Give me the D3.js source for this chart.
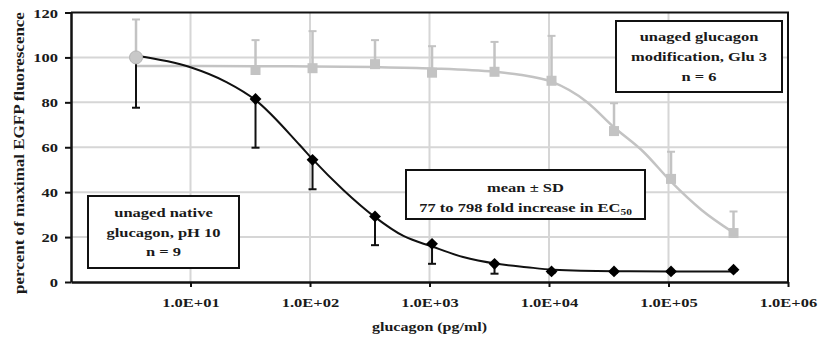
<!DOCTYPE html>
<html>
<head>
<meta charset="utf-8">
<script src="https://cdn.jsdelivr.net/npm/d3@7"></script>
<style>
  body { margin: 0; background: #fff; }
  text { font-family: "Liberation Serif", "Times New Roman", serif; font-weight: bold; fill: #1a1a1a; }
</style>
</head>
<body>
<div id="chart"></div>
<script>
// glucagon doses (pg/ml)
const doses = [3.5, 35, 105, 350, 1050, 3500, 10500, 35000, 105000, 350000];

// unaged native glucagon, pH 10 (black) - mean and SD (drawn downward)
const nativeMean = [100, 81.5, 54.4, 29.2, 17, 8.1, 4.7, 4.7, 4.7, 5.5];
const nativeSD = [22.4, 21.7, 13.1, 12.8, 8.9, 4.4, 0.6, 0.5, 0.5, 0.5];

// unaged glucagon modification, Glu 3 (grey) - mean and SD (drawn upward)
const glu3Mean = [100, 94.4, 95.2, 97, 93.2, 93.6, 89.6, 67.2, 45.9, 21.8];
const glu3SD = [16.9, 13.3, 16.5, 10.7, 11.8, 13.3, 20, 12.4, 12.1, 9.6];

// fitted curves
const nativeFitDose = [3.5, 10, 20, 35, 82, 105, 190, 350, 605, 1050, 1910, 3650, 6500, 10800, 35000, 105000, 350000];
const nativeFitValue = [100.7, 95.6, 89, 81, 61, 54.7, 41, 28.9, 20.5, 15.8, 11.1, 8.1, 6.6, 5.5, 4.8, 4.7, 4.7];
const glu3FitDose = [3.5, 35, 105, 350, 1050, 3500, 5700, 10500, 20600, 35000, 61600, 105000, 189000, 350000];
const glu3FitValue = [96.2, 96.1, 96, 95.7, 95.1, 93.6, 92.3, 89.2, 80.3, 68.9, 58, 44.7, 32.1, 22];

// axes
const yTicks = [0, 20, 40, 60, 80, 100, 120];
const xTicks = [1e1, 1e2, 1e3, 1e4, 1e5, 1e6];
const xTickLabels = ['1.0E+01', '1.0E+02', '1.0E+03', '1.0E+04', '1.0E+05', '1.0E+06'];

const W = 824, H = 341;
const SX = 1.27; // the source text is stretched sideways
const GREY = '#c3c3c3';

const svg = d3.select('#chart').append('svg')
  .attr('width', W)
  .attr('height', H);

const x = d3.scaleLog().domain([1, 1e6]).range([71, 788]);
const y = d3.scaleLinear().domain([0, 120]).range([282, 12.5]);

function label(parent, px, py, str, size, anchor) {
  return parent.append('text')
    .attr('transform', 'translate(' + px + ',' + py + ') scale(' + SX + ',1)')
    .attr('text-anchor', anchor || 'middle')
    .style('font-size', size + 'px')
    .text(str);
}

// grid
svg.append('g').selectAll('line')
  .data(yTicks.slice(1, -1))
  .enter().append('line')
  .attr('x1', x.range()[0]).attr('x2', x.range()[1])
  .attr('y1', d => y(d)).attr('y2', d => y(d))
  .attr('stroke', '#d6d6d6').attr('stroke-width', 2);

svg.append('g').selectAll('line')
  .data(xTicks.slice(0, -1))
  .enter().append('line')
  .attr('x1', d => x(d)).attr('x2', d => x(d))
  .attr('y1', y(120)).attr('y2', y(0))
  .attr('stroke', '#d6d6d6').attr('stroke-width', 2);

// top and right frame
svg.append('path')
  .attr('d', 'M' + x(1) + ',' + y(120) + 'H' + x(1e6) + 'V' + y(0))
  .attr('fill', 'none').attr('stroke', '#111').attr('stroke-width', 2);

// y axis
const yAxis = svg.append('g')
  .attr('transform', 'translate(' + x(1) + ',0)')
  .call(d3.axisLeft(y).tickValues(yTicks).tickSize(6).tickSizeOuter(0));
yAxis.select('.domain').attr('stroke', '#111').attr('stroke-width', 2.5);
yAxis.selectAll('.tick line').attr('stroke', '#111').attr('stroke-width', 2);
yAxis.selectAll('.tick text')
  .attr('x', null).attr('dy', null)
  .attr('transform', 'translate(-13,4.5) scale(' + SX + ',1)')
  .style('font-size', '13px')
  .style('font-family', null);

// x axis
const xAxis = svg.append('g')
  .attr('transform', 'translate(0,' + y(0) + ')')
  .call(d3.axisBottom(x).tickValues(xTicks).tickSize(5).tickSizeOuter(0)
    .tickFormat((d, i) => xTickLabels[i]));
xAxis.select('.domain').attr('stroke', '#111').attr('stroke-width', 2.5);
xAxis.selectAll('.tick line').attr('stroke', '#111').attr('stroke-width', 2);
xAxis.selectAll('.tick text')
  .attr('y', null).attr('dy', null)
  .attr('transform', 'translate(0,25) scale(' + SX + ',1)')
  .style('font-size', '13px')
  .style('font-family', null);

// axis titles
label(svg, (x.range()[0] + x.range()[1]) / 2, 331, 'glucagon (pg/ml)', 12.6);
svg.append('text')
  .attr('transform', 'translate(24,153) rotate(-90) scale(1.17,1)')
  .attr('text-anchor', 'middle')
  .style('font-size', '14.5px')
  .text('percent of maximal EGFP fluorescence');

const line = d3.line()
  .x(d => x(d[0]))
  .y(d => y(d[1]))
  .curve(d3.curveMonotoneX);

// grey series
svg.append('path')
  .datum(d3.zip(glu3FitDose, glu3FitValue))
  .attr('d', line)
  .attr('fill', 'none').attr('stroke', GREY).attr('stroke-width', 2.5);

const greyBars = svg.append('g').selectAll('g')
  .data(doses.map((d, i) => ({ d: d, m: glu3Mean[i], s: glu3SD[i] })))
  .enter().append('g');
greyBars.append('line')
  .attr('x1', p => x(p.d)).attr('x2', p => x(p.d))
  .attr('y1', p => y(p.m)).attr('y2', p => y(p.m + p.s))
  .attr('stroke', GREY).attr('stroke-width', 2.5);
greyBars.append('line')
  .attr('x1', p => x(p.d) - 4).attr('x2', p => x(p.d) + 4)
  .attr('y1', p => y(p.m + p.s)).attr('y2', p => y(p.m + p.s))
  .attr('stroke', GREY).attr('stroke-width', 2);
greyBars.filter((p, i) => i > 0).append('rect')
  .attr('x', p => x(p.d) - 5).attr('y', p => y(p.m) - 5)
  .attr('width', 10).attr('height', 10)
  .attr('fill', GREY);

// black series
svg.append('path')
  .datum(d3.zip(nativeFitDose, nativeFitValue))
  .attr('d', line)
  .attr('fill', 'none').attr('stroke', '#111').attr('stroke-width', 2);

const blackBars = svg.append('g').selectAll('g')
  .data(doses.map((d, i) => ({ d: d, m: nativeMean[i], s: nativeSD[i] })))
  .enter().append('g');
blackBars.append('line')
  .attr('x1', p => x(p.d)).attr('x2', p => x(p.d))
  .attr('y1', p => y(p.m)).attr('y2', p => y(p.m - p.s))
  .attr('stroke', '#111').attr('stroke-width', 2);
blackBars.append('line')
  .attr('x1', p => x(p.d) - 4).attr('x2', p => x(p.d) + 4)
  .attr('y1', p => y(p.m - p.s)).attr('y2', p => y(p.m - p.s))
  .attr('stroke', '#111').attr('stroke-width', 2);
blackBars.append('path')
  .attr('d', d3.symbol(d3.symbolSquare, 70))
  .attr('transform', p => 'translate(' + x(p.d) + ',' + y(p.m) + ') rotate(45)')
  .attr('fill', '#000');

// shared first point
svg.append('circle')
  .attr('cx', x(doses[0])).attr('cy', y(glu3Mean[0]))
  .attr('r', 6.5)
  .attr('fill', '#c8c8c8').attr('stroke', '#b4b4b4').attr('stroke-width', 1);

// annotation boxes
function box(x0, y0, x1, y1) {
  const g = svg.append('g');
  g.append('rect')
    .attr('x', x0).attr('y', y0)
    .attr('width', x1 - x0).attr('height', y1 - y0)
    .attr('fill', '#fff').attr('stroke', '#111').attr('stroke-width', 2);
  return g;
}

const b1 = box(88, 196, 239, 268);
label(b1, 163.5, 217, 'unaged native', 13);
label(b1, 163.5, 237, 'glucagon, pH 10', 13);
label(b1, 163.5, 256, 'n = 9', 13);

const b2 = box(406, 170, 645, 219);
label(b2, 525.5, 192, 'mean ± SD', 13);
const t2 = label(b2, 525.5, 212, '77 to 798 fold increase in EC', 13);
t2.append('tspan').attr('dy', 3).style('font-size', '9px').text('50');

const b3 = box(616, 21, 782, 92);
label(b3, 699, 41, 'unaged glucagon', 13);
label(b3, 699, 61, 'modification, Glu 3', 13);
label(b3, 699, 81, 'n = 6', 13);
</script>
</body>
</html>
